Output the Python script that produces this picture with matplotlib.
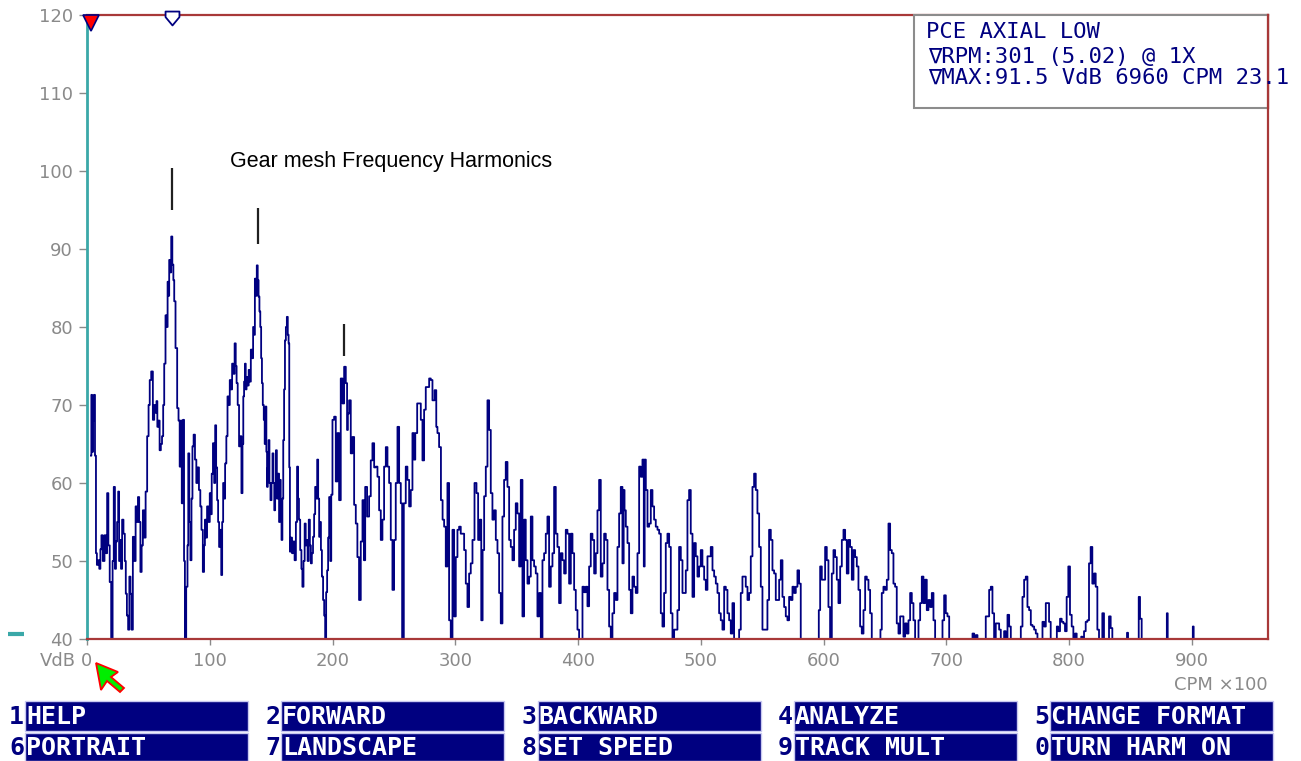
import numpy as np
import matplotlib
matplotlib.use('Agg')
import matplotlib.pyplot as plt
from matplotlib.patches import Rectangle, Polygon
from matplotlib.path import Path

# spectrum: (CPM x100, VdB); 40 = at/below bottom of scale
spectrum = [
    (3.3, 63.5), (3.8, 71.3), (4.6, 64.0), (5.2, 68.0), (6.0, 71.3), (7.0, 63.5),
    (7.6, 51.0), (8.5, 49.5), (9.5, 50.1), (10.5, 49.0), (11.3, 51.5), (12.2, 53.3),
    (13.5, 50.0), (15.0, 53.3), (16.0, 51.0), (16.8, 58.7), (18.0, 52.0), (19.0, 47.3),
    (20.4, 40.0), (21.3, 50.0), (22.3, 59.5), (23.2, 49.0), (24.0, 52.5), (25.0, 55.0),
    (25.8, 58.9), (26.5, 50.0), (27.2, 52.7), (28.2, 49.0), (29.0, 55.3), (30.4, 53.5),
    (31.2, 50.0), (32.0, 45.8), (33.0, 43.0), (34.0, 41.2), (35.0, 48.0), (35.8, 45.8),
    (36.7, 41.2), (38.0, 53.1), (39.0, 50.0), (40.2, 57.0), (41.0, 55.0), (42.0, 58.2),
    (43.0, 55.0), (44.0, 48.6), (45.0, 52.0), (46.0, 56.5), (47.2, 53.0), (48.3, 58.9),
    (49.7, 66.0), (50.6, 70.0), (51.6, 73.2), (53.0, 74.3), (54.3, 68.1), (55.2, 70.0),
    (56.2, 69.0), (57.0, 70.5), (57.6, 67.2), (58.6, 68.0), (59.7, 64.2), (60.6, 65.0),
    (61.6, 66.0), (62.5, 70.0), (63.3, 75.3), (64.6, 81.5), (65.3, 80.0), (66.0, 85.8),
    (66.6, 84.0), (67.3, 88.6), (68.2, 87.0), (69.0, 91.6), (70.0, 88.0), (70.7, 86.0),
    (71.4, 83.3), (72.8, 77.3), (74.1, 69.6), (75.0, 68.0), (76.0, 62.1), (76.8, 68.0),
    (77.6, 57.4), (78.7, 68.1), (79.4, 50.0), (80.1, 40.0), (81.5, 46.7), (82.2, 52.0),
    (82.8, 63.8), (83.8, 55.0), (84.7, 50.1), (85.5, 58.0), (86.3, 64.7), (87.4, 66.2),
    (88.5, 63.0), (89.6, 60.0), (90.6, 62.0), (91.8, 59.1), (92.8, 57.0), (93.7, 54.0),
    (95.0, 48.6), (95.7, 52.0), (96.4, 55.3), (97.3, 53.0), (98.3, 57.0), (99.5, 55.0),
    (100.5, 58.7), (101.2, 56.0), (102.0, 61.2), (103.2, 65.1), (104.0, 60.0), (104.8, 67.4),
    (105.6, 62.0), (106.4, 57.8), (107.2, 55.0), (108.0, 51.8), (109.0, 54.0), (109.7, 48.2),
    (110.5, 55.0), (111.3, 60.0), (112.0, 58.0), (113.0, 62.5), (114.0, 66.0), (114.9, 71.1),
    (115.8, 70.0), (116.8, 73.2), (117.7, 72.0), (118.7, 75.3), (119.7, 74.0), (120.8, 77.9),
    (121.5, 75.0), (122.2, 72.8), (123.3, 70.0), (124.4, 64.7), (125.3, 66.0), (126.3, 58.7),
    (127.0, 65.0), (127.6, 71.1), (128.3, 73.0), (129.0, 75.3), (129.6, 72.0), (130.3, 73.6),
    (131.2, 72.5), (132.2, 74.5), (133.0, 73.0), (133.9, 77.1), (134.8, 76.0), (135.8, 80.0),
    (136.4, 79.0), (137.1, 86.2), (137.9, 84.0), (138.7, 87.9), (139.4, 86.0), (140.1, 83.9),
    (140.8, 82.0), (141.5, 80.0), (142.2, 76.0), (142.8, 72.8), (143.6, 70.0), (144.4, 68.1),
    (145.1, 65.0), (145.8, 69.8), (146.4, 64.0), (146.9, 59.5), (147.6, 62.0), (148.2, 65.5),
    (149.0, 60.0), (149.9, 57.8), (150.7, 60.0), (151.5, 63.8), (152.2, 60.0), (152.9, 56.5),
    (153.6, 60.0), (154.2, 64.2), (155.1, 58.0), (156.1, 61.2), (156.8, 55.0), (157.5, 60.4),
    (158.1, 57.0), (158.8, 52.7), (159.5, 58.0), (160.2, 65.5), (160.9, 72.0), (161.6, 78.3),
    (162.4, 80.0), (163.2, 81.3), (163.9, 79.0), (164.5, 77.9), (165.0, 62.0), (165.6, 51.2),
    (166.5, 53.0), (167.5, 51.0), (168.5, 52.5), (169.7, 50.1), (170.6, 55.0), (171.6, 62.1),
    (172.3, 58.0), (173.0, 55.3), (174.3, 51.4), (175.0, 49.0), (175.9, 46.7), (176.8, 50.0),
    (177.8, 54.8), (178.5, 52.0), (179.2, 52.7), (180.2, 50.0), (181.1, 55.3), (182.0, 52.0),
    (182.7, 49.7), (183.6, 51.0), (184.6, 53.1), (185.4, 56.0), (186.3, 59.5), (187.1, 58.0),
    (187.9, 63.0), (188.7, 58.0), (189.5, 53.1), (190.2, 55.0), (190.9, 51.4), (191.8, 48.0),
    (192.8, 45.0), (193.6, 43.0), (194.4, 40.0), (195.2, 46.0), (196.0, 48.8), (196.8, 53.0),
    (197.7, 58.2), (198.6, 50.0), (199.3, 58.5), (200.6, 68.1), (202.0, 68.5), (203.3, 60.2),
    (204.7, 66.4), (206.0, 57.8), (207.4, 73.4), (208.8, 70.2), (210.1, 74.9), (211.5, 72.8),
    (212.2, 66.8), (212.8, 68.9), (214.2, 70.6), (215.5, 63.8), (216.9, 65.9), (218.3, 57.2),
    (219.6, 54.8), (220.9, 50.5), (222.3, 45.0), (223.7, 52.5), (225.1, 57.8), (226.0, 50.1),
    (227.2, 59.5), (229.1, 55.7), (230.5, 58.3), (231.8, 62.9), (233.2, 65.1), (234.6, 62.0),
    (235.9, 62.1), (237.3, 60.8), (238.6, 56.5), (240.0, 52.7), (241.3, 55.3), (242.7, 62.1),
    (244.1, 64.6), (245.4, 62.1), (246.8, 60.0), (248.1, 52.7), (249.5, 46.3), (250.8, 52.7),
    (252.2, 60.0), (253.6, 67.2), (254.9, 60.0), (256.3, 57.4), (257.1, 40.0), (259.0, 57.4),
    (260.3, 62.1), (261.7, 60.4), (263.1, 57.0), (264.4, 59.1), (265.8, 66.4), (266.8, 63.0),
    (268.0, 66.4), (269.9, 70.2), (271.2, 70.2), (272.6, 68.1), (273.9, 62.9), (275.3, 69.4),
    (276.6, 72.3), (278.0, 72.3), (279.4, 73.4), (280.7, 73.2), (282.1, 70.6), (284.2, 71.9),
    (284.8, 67.2), (286.1, 66.4), (287.5, 64.6), (289.1, 57.8), (290.2, 55.3), (291.6, 54.4),
    (292.9, 49.3), (294.3, 60.0), (295.6, 42.4), (297.0, 40.0), (298.4, 54.0), (299.7, 42.9),
    (301.1, 50.5), (302.4, 54.0), (303.8, 54.4), (305.1, 53.5), (306.5, 53.5), (307.9, 51.4),
    (309.2, 47.1), (310.6, 44.1), (311.9, 48.4), (313.3, 49.7), (314.7, 52.7), (316.6, 60.0),
    (317.9, 58.7), (319.3, 52.7), (320.6, 55.3), (321.7, 42.4), (322.8, 51.4), (324.2, 58.3),
    (325.5, 62.1), (326.9, 70.6), (328.2, 66.8), (329.6, 58.7), (330.9, 55.3), (332.3, 56.5),
    (333.7, 52.7), (335.0, 51.0), (336.4, 45.9), (337.7, 42.0), (339.1, 55.7), (340.4, 60.4),
    (341.8, 62.7), (343.2, 59.5), (344.5, 52.7), (345.9, 51.8), (347.2, 50.1), (348.6, 54.0),
    (349.9, 57.4), (351.3, 56.1), (352.7, 49.3), (354.0, 60.4), (355.4, 42.9), (356.7, 55.3),
    (358.1, 50.1), (359.5, 47.1), (360.8, 48.0), (362.2, 55.7), (363.5, 50.1), (364.9, 49.3),
    (366.2, 48.4), (367.6, 42.9), (369.0, 45.9), (370.3, 40.0), (371.7, 50.1), (373.0, 51.0),
    (374.4, 53.5), (375.7, 55.7), (377.1, 46.7), (378.5, 49.3), (379.8, 51.0), (381.2, 59.5),
    (382.5, 53.5), (383.9, 51.8), (385.2, 44.6), (386.6, 51.0), (388.0, 50.1), (389.3, 48.4),
    (390.7, 54.0), (392.0, 53.5), (393.4, 47.1), (394.8, 53.5), (396.1, 51.0), (397.5, 46.3),
    (398.8, 43.7), (400.2, 41.2), (401.5, 40.0), (402.9, 40.0), (404.3, 46.7), (405.6, 46.0),
    (407.0, 46.7), (408.3, 44.2), (409.7, 49.3), (411.0, 53.5), (412.4, 52.7), (413.8, 48.4),
    (415.1, 51.0), (416.5, 56.5), (417.8, 60.4), (419.2, 48.0), (420.6, 49.7), (421.9, 53.5),
    (423.3, 52.7), (424.6, 46.3), (426.0, 41.6), (427.3, 40.0), (428.7, 43.3), (430.1, 45.9),
    (431.4, 45.0), (432.8, 51.8), (434.1, 56.1), (435.5, 59.5), (436.8, 49.7), (437.5, 59.1),
    (438.2, 56.5), (439.6, 54.4), (440.9, 52.3), (442.3, 46.3), (443.6, 43.3), (445.0, 48.0),
    (446.3, 46.7), (447.7, 45.9), (449.1, 51.0), (450.4, 62.1), (451.8, 60.8), (453.1, 63.0),
    (454.0, 49.3), (454.5, 63.0), (455.9, 59.1), (457.2, 54.4), (458.6, 54.8), (459.9, 59.1),
    (461.3, 57.0), (462.6, 55.3), (464.0, 54.4), (465.4, 54.0), (466.7, 53.5), (468.1, 43.3),
    (469.4, 41.6), (470.8, 45.9), (472.1, 52.3), (473.5, 53.5), (474.9, 51.8), (476.2, 43.3),
    (477.6, 40.0), (478.9, 41.2), (480.3, 41.2), (481.6, 43.7), (483.0, 51.8), (484.4, 50.1),
    (485.7, 45.9), (487.1, 45.9), (488.4, 48.8), (489.8, 57.8), (491.1, 59.1), (492.5, 53.5),
    (493.9, 45.4), (495.2, 52.3), (496.6, 50.6), (497.9, 48.0), (499.3, 49.3), (500.6, 51.4),
    (502.0, 49.3), (503.4, 47.6), (504.7, 46.3), (506.1, 50.6), (507.4, 50.6), (508.8, 51.8),
    (510.2, 48.8), (511.5, 48.0), (512.9, 47.1), (514.2, 45.9), (515.6, 43.3), (516.9, 42.4),
    (518.3, 41.2), (519.7, 46.7), (521.0, 46.3), (522.4, 43.3), (523.7, 42.4), (525.1, 40.7),
    (526.4, 44.6), (527.8, 40.0), (530.5, 40.0), (531.9, 41.2), (533.2, 45.9), (534.6, 48.0),
    (535.9, 48.0), (537.3, 46.7), (538.7, 45.0), (540.0, 45.9), (541.4, 50.6), (542.7, 59.5),
    (544.1, 61.2), (545.4, 59.1), (546.8, 56.1), (548.2, 51.8), (549.5, 46.7), (550.9, 41.2),
    (553.6, 41.2), (554.9, 45.0), (556.3, 54.0), (557.7, 52.7), (559.0, 48.8), (560.4, 48.4),
    (561.7, 45.0), (563.1, 45.0), (564.5, 47.6), (565.8, 50.1), (567.2, 45.4), (568.5, 44.1),
    (569.9, 42.9), (571.2, 42.4), (572.6, 45.4), (574.0, 45.0), (575.3, 46.7), (576.7, 45.9),
    (578.0, 46.7), (579.4, 48.8), (580.7, 47.1), (582.1, 40.0), (595.7, 40.0), (596.5, 43.7),
    (597.9, 49.3), (599.2, 47.6), (600.6, 47.6), (601.9, 51.8), (603.3, 50.1), (604.6, 44.1),
    (606.0, 40.0), (607.4, 48.4), (608.7, 51.4), (610.1, 50.5), (611.4, 47.6), (612.8, 44.6),
    (614.2, 49.3), (615.5, 52.7), (616.9, 54.0), (618.2, 52.7), (619.6, 48.4), (620.9, 52.7),
    (622.3, 51.8), (623.7, 47.6), (625.0, 51.4), (626.4, 50.5), (627.7, 49.3), (629.1, 46.3),
    (630.4, 41.6), (631.8, 40.7), (633.2, 43.7), (634.5, 48.0), (635.9, 47.6), (637.2, 46.3),
    (638.6, 43.3), (639.9, 40.0), (645.9, 40.0), (646.7, 41.2), (648.1, 45.9), (649.4, 46.7),
    (650.8, 46.3), (652.2, 47.6), (653.5, 54.8), (654.9, 51.4), (656.2, 51.0), (657.6, 47.1),
    (658.9, 46.7), (660.3, 42.0), (661.7, 40.7), (663.0, 42.9), (664.4, 42.9), (665.7, 40.3),
    (667.1, 42.0), (668.5, 40.7), (669.8, 42.4), (671.2, 45.9), (672.5, 44.6), (673.9, 42.4),
    (675.2, 40.0), (676.6, 40.0), (678.0, 42.4), (679.3, 44.6), (680.7, 48.0), (682.0, 44.6),
    (683.4, 47.6), (684.7, 43.7), (686.1, 45.0), (687.5, 44.1), (688.8, 45.9), (690.2, 42.4),
    (691.5, 40.0), (696.2, 40.0), (697.5, 42.4), (698.9, 45.6), (700.2, 43.3), (701.6, 42.9),
    (703.0, 40.0), (720.6, 40.0), (722.0, 40.7), (723.3, 40.0), (724.7, 40.5), (726.0, 40.0),
    (731.4, 40.0), (732.8, 42.9), (734.2, 42.9), (735.5, 46.3), (736.9, 46.7), (738.2, 43.3),
    (739.6, 40.0), (740.9, 42.0), (742.3, 42.0), (743.7, 41.2), (745.0, 40.0), (746.4, 40.0),
    (747.7, 41.0), (749.1, 40.0), (750.5, 43.1), (751.8, 41.6), (753.2, 40.0), (760.0, 40.0),
    (761.3, 41.6), (762.7, 45.4), (764.0, 47.6), (765.4, 48.0), (766.7, 44.1), (768.1, 43.7),
    (769.5, 41.8), (770.8, 41.6), (772.2, 41.2), (773.5, 40.7), (774.9, 40.0), (777.6, 40.0),
    (779.0, 42.2), (780.3, 41.6), (781.7, 44.6), (783.0, 44.6), (784.3, 42.2), (785.7, 40.0),
    (789.7, 40.0), (790.3, 41.6), (791.9, 41.0), (793.3, 42.6), (794.6, 42.2), (796.0, 42.0),
    (797.3, 41.0), (798.7, 45.4), (800.0, 49.3), (801.4, 43.1), (802.8, 41.6), (804.1, 40.0),
    (805.5, 40.7), (806.8, 40.0), (809.6, 40.0), (810.1, 40.3), (811.5, 40.0), (812.8, 41.0),
    (814.2, 42.2), (815.5, 42.4), (816.9, 49.7), (818.2, 51.8), (819.6, 47.1), (821.0, 48.4),
    (822.3, 46.7), (823.7, 41.2), (825.0, 40.0), (826.4, 40.0), (827.7, 43.3), (829.1, 40.0),
    (831.8, 40.0), (833.2, 42.9), (834.5, 41.4), (835.9, 40.0), (846.7, 40.0), (847.6, 40.8),
    (848.4, 40.0), (856.3, 40.0), (857.1, 45.4), (858.4, 42.6), (859.8, 40.0), (879.3, 40.0),
    (879.9, 43.3), (880.7, 40.0), (900.5, 40.0), (901.0, 41.6), (901.9, 40.0), (962.0, 40.0),
]

x_ticks = [0, 100, 200, 300, 400, 500, 600, 700, 800, 900]
y_ticks = [40, 50, 60, 70, 80, 90, 100, 110, 120]

# gear mesh harmonic tick marks: position, top and bottom (VdB)
harm_cpm = [69.2, 139.3, 209.3]
harm_top = [100.4, 95.3, 80.4]
harm_bot = [95.0, 90.6, 76.3]

rpm_cursor = 3.01
max_cursor = 69.6

header_lines = ['PCE AXIAL LOW',
                '\u2207RPM:301 (5.02) @ 1X',
                '\u2207MAX:91.5 VdB 6960 CPM 23.1']

menu_keys = ['1', '2', '3', '4', '5', '6', '7', '8', '9', '0']
menu_labels = ['HELP', 'FORWARD', 'BACKWARD', 'ANALYZE', 'CHANGE FORMAT',
               'PORTRAIT', 'LANDSCAPE', 'SET SPEED', 'TRACK MULT', 'TURN HARM ON']

NAVY = '#000080'
GRAY = '#8a8a8a'
RED = '#a83838'
TEAL = '#3aa8a8'
W, H = 1301, 761

freq, level = np.array(spectrum).T

fig = plt.figure(figsize=(W / 100, H / 100), dpi=100)
ax = fig.add_axes([87 / W, 1 - 639 / H, (1268 - 87) / W, (639 - 15) / H])
ax.plot(freq, level, color=NAVY, lw=1.3, drawstyle='steps-mid')
ax.vlines(harm_cpm, harm_bot, harm_top, color='#202020', lw=1.6)

ax.set_xlim(0, 962)
ax.set_ylim(40, 120)
ax.set_xticks(x_ticks)
ax.set_yticks(y_ticks)
for s in ['top', 'right', 'bottom']:
    ax.spines[s].set_color(RED)
    ax.spines[s].set_linewidth(1.6)
    ax.spines[s].set_zorder(5)
ax.spines['left'].set_color(TEAL)
ax.spines['left'].set_linewidth(2)
ax.tick_params(axis='both', colors=GRAY, labelcolor=GRAY, labelsize=13, width=1)
ax.tick_params(axis='y', length=6, pad=4)
ax.tick_params(axis='x', length=4.5, pad=5)

# cursors along the top edge
ax.plot(rpm_cursor, 119.0, marker='v', ms=12, mfc='red', mec=NAVY, mew=1.2,
        clip_on=False, zorder=6)
shield = Path([(-1, 1), (1, 1), (1, 0.2), (0, -1), (-1, 0.2), (-1, 1)],
              [Path.MOVETO, Path.LINETO, Path.LINETO, Path.LINETO, Path.LINETO, Path.CLOSEPOLY])
ax.plot(max_cursor, 119.6, marker=shield, ms=10, mfc='white', mec=NAVY, mew=1.3,
        clip_on=False, zorder=6)

# overlay in pixel coordinates for the screen furniture
ov = fig.add_axes([0, 0, 1, 1])
ov.set_xlim(0, W)
ov.set_ylim(H, 0)
ov.axis('off')
ov.patch.set_visible(False)

ov.add_patch(Rectangle((914, 15), 354, 93, facecolor='white', edgecolor='#8c8c8c', lw=1.5))
ov.plot([1268, 1268], [15, 108], color=RED, lw=1.6)
for i, (txt, yy) in enumerate(zip(header_lines, [32, 57, 78])):
    ov.text(926 if i == 0 else 928, yy, txt, color=NAVY, fontsize=16, va='center', ha='left',
            family=['DejaVu Sans Mono', 'DejaVu Sans'])

ov.text(230, 162, 'Gear mesh Frequency Harmonics', fontsize=15.5, family='Liberation Sans',
        color='black', va='center', ha='left')

ov.text(76, 661, 'VdB', color=GRAY, fontsize=13, ha='right', va='center')
ov.text(1268, 685, 'CPM \u00d7100', color=GRAY, fontsize=13, ha='right', va='center')
ov.plot([8, 24], [634, 634], color=TEAL, lw=3, solid_capstyle='butt')

arrow = [(96, 663), (118, 672), (111, 677), (124, 688), (120, 692), (107, 681), (101, 690)]
ov.add_patch(Polygon(arrow, closed=True, facecolor='#00ee00', edgecolor='red', lw=1.3))

for i, (key, lab) in enumerate(zip(menu_keys, menu_labels)):
    row, col = divmod(i, 5)
    left = 25 + 256.25 * col
    top = 701 if row == 0 else 733
    hgt = 30 if row == 0 else 28
    ov.add_patch(Rectangle((left, top), 223, hgt, facecolor=NAVY, edgecolor='#c8c8f0', lw=1))
    ov.text(left + 1, top + hgt / 2 + 1, lab, color='white', fontsize=18, fontweight='bold',
            family='DejaVu Sans Mono', ha='left', va='center')
    ov.text(left - 1, top + hgt / 2 + 1, key, color=NAVY, fontsize=18, fontweight='bold',
            family='DejaVu Sans Mono', ha='right', va='center')

fig.savefig('out.png', dpi=100, facecolor='white')
